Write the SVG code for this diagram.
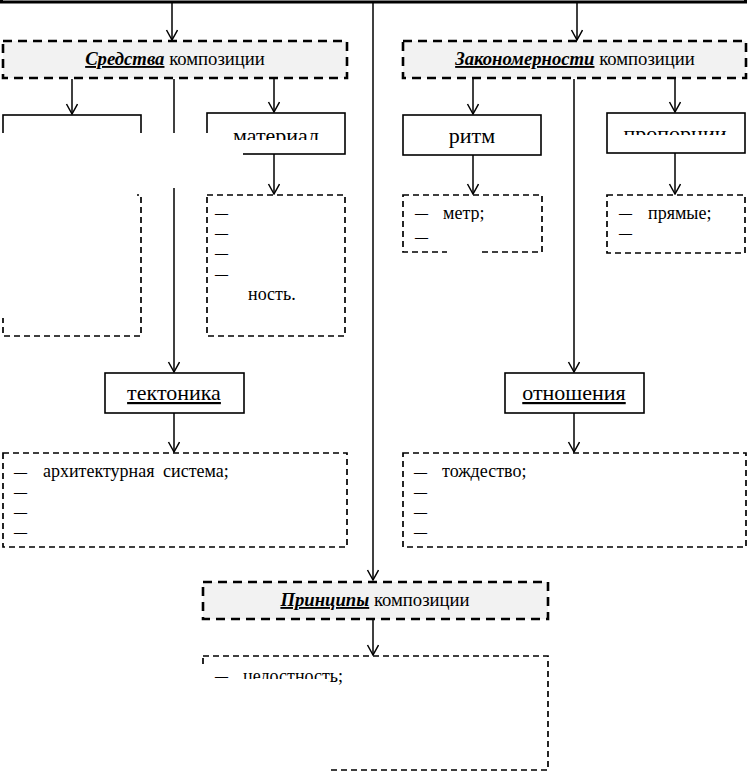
<svg xmlns="http://www.w3.org/2000/svg" width="750" height="774" viewBox="0 0 750 774">
<defs>
<style>
.main{fill:#f2f2f2;stroke:#000;stroke-width:2.6;stroke-dasharray:9 6}
.box{fill:#fff;stroke:#000;stroke-width:1.6}
.list{fill:#fff;stroke:#000;stroke-width:1.7;stroke-dasharray:6 4}
.conn{stroke:#000;stroke-width:1.5;fill:none}
.t{font-family:"Liberation Serif","Times New Roman",serif;fill:#000}
.title{font-size:18.7px}
.node{font-size:22px}
.li{font-size:18px}
.d{font-family:"Liberation Serif","Times New Roman",serif;fill:#000;font-size:13px;font-weight:bold}
.occ{fill:#fff;stroke:none}
</style>
<marker id="arr" markerUnits="userSpaceOnUse" markerWidth="14" markerHeight="14" refX="11" refY="6" orient="auto">
<path d="M1,0.5 L11,6 L1,11.5" fill="none" stroke="#000" stroke-width="1.5"/>
</marker>
</defs>

<g id="top-box">
<path d="M1.5,-6 V2 H745.5 V-6" fill="none" stroke="#000" stroke-width="3"/>
</g>

<g id="connectors">
<line class="conn" x1="172" y1="3" x2="172" y2="40" marker-end="url(#arr)"/>
<line class="conn" x1="577" y1="3" x2="577" y2="40" marker-end="url(#arr)"/>
<line class="conn" x1="373" y1="3" x2="373" y2="580" marker-end="url(#arr)"/>
<line class="conn" x1="72" y1="79" x2="72" y2="114" marker-end="url(#arr)"/>
<line class="conn" x1="174" y1="79" x2="174" y2="372" marker-end="url(#arr)"/>
<line class="conn" x1="274" y1="79" x2="274" y2="112" marker-end="url(#arr)"/>
<line class="conn" x1="274" y1="154" x2="274" y2="194" marker-end="url(#arr)"/>
<line class="conn" x1="174" y1="413" x2="174" y2="452" marker-end="url(#arr)"/>
<line class="conn" x1="473" y1="79" x2="473" y2="114" marker-end="url(#arr)"/>
<line class="conn" x1="574" y1="79" x2="574" y2="372" marker-end="url(#arr)"/>
<line class="conn" x1="675" y1="79" x2="675" y2="112" marker-end="url(#arr)"/>
<line class="conn" x1="473" y1="155" x2="473" y2="194" marker-end="url(#arr)"/>
<line class="conn" x1="675" y1="153" x2="675" y2="194" marker-end="url(#arr)"/>
<line class="conn" x1="574" y1="413" x2="574" y2="452" marker-end="url(#arr)"/>
<line class="conn" x1="373" y1="620" x2="373" y2="655" marker-end="url(#arr)"/>
</g>

<g id="sredstva">
<rect class="main" x="3" y="41" width="344" height="37"/>
<text class="t title" x="175" y="65" text-anchor="middle"><tspan font-weight="bold" font-style="italic" text-decoration="underline">Средства</tspan> композиции</text>
</g>

<g id="zakonomernosti">
<rect class="main" x="403" y="41" width="343" height="37"/>
<text class="t title" x="575" y="65" text-anchor="middle"><tspan font-weight="bold" font-style="italic" text-decoration="underline">Закономерности</tspan> композиции</text>
</g>

<g id="forma">
<rect class="box" x="3" y="115" width="138" height="40"/>
</g>

<g id="forma-list">
<rect class="list" x="3" y="195" width="138" height="141"/>
</g>

<g id="material">
<rect class="box" x="207" y="113" width="138" height="41"/>
<text class="t node" x="276" y="143" text-anchor="middle">материал</text>
</g>

<g id="material-list">
<rect class="list" x="207" y="195" width="138" height="141"/>
<text class="d" x="215" y="217">—</text>
<text class="d" x="215" y="237">—</text>
<text class="d" x="215" y="257">—</text>
<text class="d" x="215" y="278">—</text>
<text class="t li" x="248" y="300">ность.</text>
</g>

<g id="ritm">
<rect class="box" x="403" y="115" width="138" height="40"/>
<text class="t node" x="472" y="143" text-anchor="middle">ритм</text>
</g>

<g id="ritm-list">
<rect class="list" x="403" y="195" width="139" height="57"/>
<text class="d" x="415" y="217">—</text>
<text class="d" x="415" y="241">—</text>
<text class="t li" x="443" y="219">метр;</text>
</g>

<g id="proportsii">
<rect class="box" x="607" y="113" width="138" height="40"/>
<text class="t node" x="675" y="141" text-anchor="middle">пропорции</text>
</g>

<g id="proportsii-list">
<rect class="list" x="607" y="195" width="138" height="58"/>
<text class="d" x="619" y="217">—</text>
<text class="d" x="619" y="237">—</text>
<text class="t li" x="648" y="219">прямые;</text>
</g>

<g id="tektonika">
<rect class="box" x="105" y="373" width="139" height="40"/>
<text class="t node" x="174" y="400" text-anchor="middle" text-decoration="underline">тектоника</text>
</g>

<g id="tektonika-list">
<rect class="list" x="3" y="453" width="344" height="94"/>
<text class="d" x="14" y="476">—</text>
<text class="d" x="14" y="496">—</text>
<text class="d" x="14" y="516">—</text>
<text class="d" x="14" y="536">—</text>
<text class="t li" x="43" y="477" word-spacing="4">архитектурная система;</text>
</g>

<g id="otnosheniya">
<rect class="box" x="505" y="373" width="139" height="40"/>
<text class="t node" x="574" y="400" text-anchor="middle" text-decoration="underline">отношения</text>
</g>

<g id="otnosheniya-list">
<rect class="list" x="403" y="453" width="343" height="94"/>
<text class="d" x="414" y="476">—</text>
<text class="d" x="414" y="496">—</text>
<text class="d" x="414" y="516">—</text>
<text class="d" x="414" y="536">—</text>
<text class="t li" x="442" y="477">тождество;</text>
</g>

<g id="printsipy">
<rect class="main" x="203" y="582" width="345" height="37"/>
<text class="t title" x="375" y="606" text-anchor="middle"><tspan font-weight="bold" font-style="italic" text-decoration="underline">Принципы</tspan> композиции</text>
</g>

<g id="printsipy-list">
<rect class="list" x="203" y="656" width="345" height="114"/>
<text class="d" x="215" y="680">—</text>
<text class="t li" x="243" y="682">целостность;</text>
</g>

<g id="masked-areas">
<rect class="occ" x="0" y="133" width="230" height="7"/>
<rect class="occ" x="0" y="140" width="243" height="48"/>
<rect class="occ" x="0" y="188" width="137" height="130"/>
<rect class="occ" x="6" y="318" width="131" height="15"/>
<rect class="occ" x="209" y="140" width="134" height="12"/>
<rect class="occ" x="609" y="135" width="134" height="16"/>
<rect class="occ" x="447" y="222" width="32" height="33"/>
<rect class="occ" x="195" y="679" width="133" height="95"/>
<rect class="occ" x="195" y="668" width="14" height="11"/>
</g>
</svg>
